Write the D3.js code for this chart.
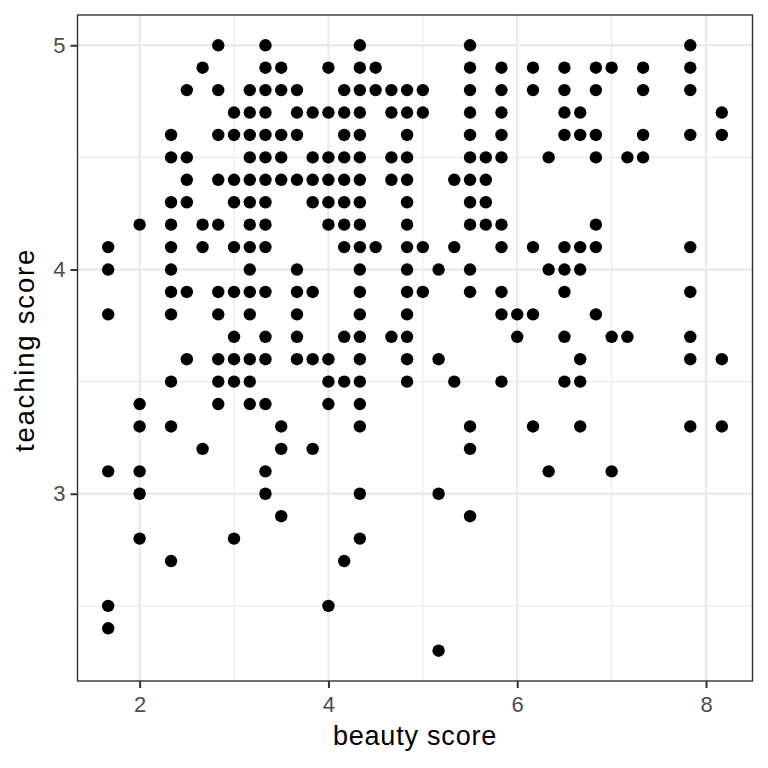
<!DOCTYPE html>
<html>
<head>
<meta charset="utf-8">
<script src="https://cdn.jsdelivr.net/npm/d3@7"></script>
<style>
  html, body { margin: 0; padding: 0; background: #fff; }
  svg { display: block; }
</style>
</head>
<body>
<svg id="chart" width="768" height="768"></svg>
<script>
// ---- Data (beauty score values grouped by teaching score) ----
const scoreRows = [5.0, 4.9, 4.8, 4.7, 4.6, 4.5, 4.4, 4.3, 4.2, 4.1, 4.0, 3.9, 3.8, 3.7, 3.6, 3.5, 3.4, 3.3, 3.2, 3.1, 3.0, 2.9, 2.8, 2.7, 2.5, 2.4, 2.3];
const beautyByRow = [
  [2.833, 3.333, 4.333, 5.5, 7.833],
  [2.667, 3.333, 3.5, 4.0, 4.333, 4.5, 5.5, 5.833, 6.167, 6.5, 6.833, 7.0, 7.333, 7.833],
  [2.5, 2.833, 3.167, 3.333, 3.5, 3.667, 4.167, 4.333, 4.5, 4.667, 4.833, 5.0, 5.5, 5.833, 6.167, 6.5, 6.833, 7.333, 7.833],
  [3.0, 3.167, 3.333, 3.667, 3.833, 4.0, 4.167, 4.333, 4.667, 4.833, 5.0, 5.5, 5.833, 6.5, 6.667, 8.167],
  [2.333, 2.833, 3.0, 3.167, 3.333, 3.5, 3.667, 4.167, 4.333, 4.833, 5.5, 5.833, 6.5, 6.667, 6.833, 7.333, 7.833, 8.167],
  [2.333, 2.5, 3.167, 3.333, 3.5, 3.833, 4.0, 4.167, 4.333, 4.667, 4.833, 5.5, 5.667, 5.833, 6.333, 6.833, 7.167, 7.333],
  [2.5, 2.833, 3.0, 3.167, 3.333, 3.5, 3.667, 3.833, 4.0, 4.167, 4.333, 4.667, 4.833, 5.333, 5.5, 5.667],
  [2.333, 2.5, 3.0, 3.167, 3.333, 3.833, 4.0, 4.167, 4.333, 4.833, 5.5, 5.667],
  [2.0, 2.333, 2.667, 2.833, 3.167, 3.333, 4.0, 4.167, 4.333, 4.833, 5.5, 5.667, 5.833, 6.833],
  [1.667, 2.333, 2.667, 3.0, 3.167, 3.333, 4.167, 4.333, 4.5, 4.833, 5.0, 5.333, 5.833, 6.167, 6.5, 6.667, 6.833, 7.833],
  [1.667, 2.333, 3.167, 3.667, 4.333, 4.833, 5.167, 5.5, 6.333, 6.5, 6.667],
  [2.333, 2.5, 2.833, 3.0, 3.167, 3.333, 3.667, 3.833, 4.333, 4.833, 5.0, 5.5, 5.833, 6.5, 7.833],
  [1.667, 2.333, 2.833, 3.167, 3.667, 4.333, 4.833, 5.833, 6.0, 6.167, 6.833],
  [3.0, 3.333, 3.667, 4.167, 4.333, 4.667, 4.833, 6.0, 6.5, 7.0, 7.167, 7.833],
  [2.5, 2.833, 3.0, 3.167, 3.333, 3.667, 3.833, 4.0, 4.333, 4.833, 5.167, 6.667, 7.833, 8.167],
  [2.333, 2.833, 3.0, 3.167, 4.0, 4.167, 4.333, 4.833, 5.333, 5.833, 6.5, 6.667],
  [2.0, 2.833, 3.167, 3.333, 4.0, 4.333],
  [2.0, 2.333, 3.5, 4.333, 5.5, 6.167, 6.667, 7.833, 8.167],
  [2.667, 3.5, 3.833, 5.5],
  [1.667, 2.0, 3.333, 6.333, 7.0],
  [2.0, 3.333, 4.333, 5.167],
  [3.5, 5.5],
  [2.0, 3.0, 4.333],
  [2.333, 4.167],
  [1.667, 4.0],
  [1.667],
  [5.167]
];
const xTicks = [2, 4, 6, 8];
const xMinor = [3, 5, 7];
const yTicks = [3, 4, 5];
const yMinor = [2.5, 3.5, 4.5];
const xTitle = "beauty score";
const yTitle = "teaching score";

const points = [];
scoreRows.forEach((s, i) => beautyByRow[i].forEach(b => points.push({ bty: b, score: s })));

// ---- Layout ----
const svg = d3.select("#chart");
const panel = { left: 77.5, right: 752.5, top: 15, bottom: 681 };

const xMin = d3.min(points, d => d.bty), xMax = d3.max(points, d => d.bty);
const yMin = d3.min(points, d => d.score), yMax = d3.max(points, d => d.score);
const xPad = (xMax - xMin) * 0.05, yPad = (yMax - yMin) * 0.05;

const x = d3.scaleLinear().domain([xMin - xPad, xMax + xPad]).range([panel.left, panel.right]);
const y = d3.scaleLinear().domain([yMin - yPad, yMax + yPad]).range([panel.bottom, panel.top]);

const grid = svg.append("g");
// minor grid
grid.selectAll("line.xminor").data(xMinor).join("line")
  .attr("x1", d => x(d)).attr("x2", d => x(d))
  .attr("y1", panel.top).attr("y2", panel.bottom)
  .attr("stroke", "#EBEBEB").attr("stroke-width", 1.2);
grid.selectAll("line.yminor").data(yMinor).join("line")
  .attr("y1", d => y(d)).attr("y2", d => y(d))
  .attr("x1", panel.left).attr("x2", panel.right)
  .attr("stroke", "#EBEBEB").attr("stroke-width", 1.2);
// major grid
grid.selectAll("line.xmajor").data(xTicks).join("line")
  .attr("x1", d => x(d)).attr("x2", d => x(d))
  .attr("y1", panel.top).attr("y2", panel.bottom)
  .attr("stroke", "#EBEBEB").attr("stroke-width", 2.4);
grid.selectAll("line.ymajor").data(yTicks).join("line")
  .attr("y1", d => y(d)).attr("y2", d => y(d))
  .attr("x1", panel.left).attr("x2", panel.right)
  .attr("stroke", "#EBEBEB").attr("stroke-width", 2.4);

// points
svg.append("g").selectAll("circle").data(points).join("circle")
  .attr("cx", d => x(d.bty)).attr("cy", d => y(d.score))
  .attr("r", 6.2).attr("fill", "#000");

// panel border
svg.append("rect")
  .attr("x", panel.left).attr("y", panel.top)
  .attr("width", panel.right - panel.left).attr("height", panel.bottom - panel.top)
  .attr("fill", "none").attr("stroke", "#333333").attr("stroke-width", 1.4);

// axes
const font = "'Liberation Sans', Arial, Helvetica, sans-serif";
const xAxis = svg.append("g").attr("transform", `translate(0,${panel.bottom})`)
  .call(d3.axisBottom(x).tickValues(xTicks).tickSize(7).tickPadding(8).tickFormat(d3.format("d")));
const yAxis = svg.append("g").attr("transform", `translate(${panel.left},0)`)
  .call(d3.axisLeft(y).tickValues(yTicks).tickSize(7).tickPadding(5).tickFormat(d3.format("d")));
[xAxis, yAxis].forEach(a => {
  a.select(".domain").remove();
  a.selectAll(".tick line").attr("stroke", "#333333").attr("stroke-width", 2);
  a.selectAll(".tick text").attr("fill", "#4D4D4D").style("font-family", font).style("font-size", "22px");
});

// titles
svg.append("text")
  .attr("x", (panel.left + panel.right) / 2).attr("y", 745)
  .attr("text-anchor", "middle")
  .style("font-family", font).style("font-size", "27px").style("letter-spacing", "0.8px")
  .attr("fill", "#000").text(xTitle);
svg.append("text")
  .attr("transform", `translate(33.5,${(panel.top + panel.bottom) / 2 + 2}) rotate(-90)`)
  .attr("text-anchor", "middle")
  .style("font-family", font).style("font-size", "27.5px").style("letter-spacing", "1.8px")
  .attr("fill", "#000").text(yTitle);
</script>
</body>
</html>
